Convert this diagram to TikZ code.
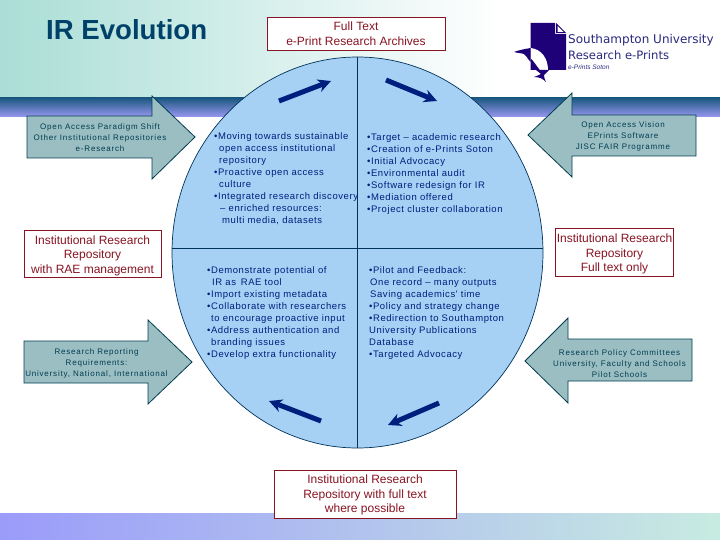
\documentclass[tikz,border=0pt]{standalone}
\usepackage{fontspec}
\setmainfont{Liberation Sans}
\newfontfamily\widefont[LetterSpace=6]{Liberation Sans}
\newfontfamily\arrowfont[LetterSpace=10]{Liberation Sans}
\newfontfamily\logofont{DejaVu Sans}
\usetikzlibrary{arrows.meta, positioning, calc}
\definecolor{tealfade}{RGB}{170,222,214}
\definecolor{banddark}{RGB}{28,88,130}
\definecolor{bandlight}{RGB}{150,150,238}
\definecolor{titleink}{RGB}{0,65,105}
\definecolor{footleft}{RGB}{155,155,250}
\definecolor{footright}{RGB}{200,235,225}
\definecolor{discfill}{RGB}{166,209,245}
\definecolor{discline}{RGB}{0,50,90}
\definecolor{pointerfill}{RGB}{155,190,195}
\definecolor{pointerline}{RGB}{0,60,80}
\definecolor{boxred}{RGB}{135,20,35}
\definecolor{navyink}{RGB}{0,30,125}
\definecolor{logoblue}{RGB}{30,0,120}
\definecolor{logoink}{RGB}{40,40,125}
\tikzset{
  redbox/.style={draw=boxred, line width=0.8pt, fill=white, text=boxred, align=center, inner sep=0pt, font=\fontsize{12}{14.5}\selectfont},
  pointer/.style={draw=pointerline, line width=0.8pt, fill=pointerfill},
  pointertext/.style={text=pointerline, align=center, inner sep=0pt, font=\fontsize{8}{11}\arrowfont},
  disctext/.style={text=navyink, align=left, anchor=north west, inner sep=0pt, font=\fontsize{9.5}{12}\widefont},
  flowarrow/.style={draw=navyink, line width=5pt, -{Stealth[length=13pt,width=13pt]}},
  logotext/.style={anchor=west, inner sep=0pt, text=logoink}
}
\begin{document}
\begin{tikzpicture}[x=1pt, y=-1pt, >=Stealth]
    \useasboundingbox (0,0) rectangle (720,540);
    % backgrounds
    \shade[left color=tealfade, right color=white] (0,0) rectangle (500,98);
    \shade[top color=banddark, bottom color=bandlight] (0,98) rectangle (720,116.5);
    \shade[left color=footleft, right color=footright] (0,513) rectangle (720,540);

    \node[anchor=west, inner sep=0pt, text=titleink, font=\fontsize{27.6}{30}\selectfont\bfseries] (title) at (46,30) {IR Evolution};

    % disc
    \draw[discline, fill=discfill, line width=0.7pt] (357.5,252.5) ellipse [x radius=185.5, y radius=195.5];
    \draw[discline, line width=0.7pt] (172,248) -- (543,248);
    \draw[discline, line width=0.7pt] (357,57) -- (357,448);

    % flow arrows round the disc
    \coordinate (tl1) at (279,101);
    \coordinate (tl2) at (331,81);
    \coordinate (tr1) at (386,80);
    \coordinate (tr2) at (437,101);
    \coordinate (br1) at (439,403);
    \coordinate (br2) at (388,425);
    \coordinate (bl1) at (321,421);
    \coordinate (bl2) at (269,401);
    \draw[flowarrow] (tl1) -- (tl2);
    \draw[flowarrow] (tr1) -- (tr2);
    \draw[flowarrow] (br1) -- (br2);
    \draw[flowarrow] (bl1) -- (bl2);

    % disc texts
    \node[disctext] (moving) at (214,132.5) {•Moving towards sustainable\\
      \hspace{5pt}open access institutional\\
      \hspace{5pt}repository\\
      •Proactive open access\\
      \hspace{5pt}culture\\
      •Integrated research discovery\\
      \hspace{6pt}– enriched resources:\\
      \hspace{8pt}multi media, datasets};
    \node[disctext] (target) at (367,133.5) {•Target – academic research\\
      •Creation of e-Prints Soton\\
      •Initial Advocacy\\
      •Environmental audit\\
      •Software redesign for IR\\
      •Mediation offered\\
      •Project cluster collaboration};
    \node[disctext] (demo) at (207,266.5) {•Demonstrate potential of\\
      \hspace{5pt}IR as\enspace RAE tool\\
      •Import existing metadata\\
      •Collaborate with researchers\\
      \hspace{4pt}to encourage proactive input\\
      •Address authentication and\\
      \hspace{4pt}branding issues\\
      •Develop extra functionality};
    \node[disctext] (pilot) at (369,266.5) {•Pilot and Feedback:\\
      \hspace{1pt}One record – many outputs\\
      \hspace{1pt}Saving academics' time\\
      •Policy and strategy change\\
      •Redirection to Southampton\\
      University Publications\\
      Database\\
      •Targeted Advocacy};

    % red boxes
    \node[redbox, minimum width=178pt, minimum height=33pt] (fulltext) at (356,33.5) {Full Text\\[1pt]e-Print Research Archives};
    \node[redbox, minimum width=137pt, minimum height=47pt] (raebox) at (92.5,253.5) {\rule{0pt}{13pt}Institutional Research\\Repository\\with RAE management};
    \node[redbox, minimum width=118pt, minimum height=48pt] (onlybox) at (614.5,252) {\rule{0pt}{13pt}Institutional Research\\Repository\\Full text only};
    \node[redbox, minimum width=182pt, minimum height=48pt] (possible) at (365,494) {\rule{0pt}{11pt}Institutional Research\\Repository with full text\\where possible};

    % pointers
    \draw[pointer] (27,116) -- (152,116) -- (152,96) -- (195,137) -- (152,179) -- (152,158) -- (27,158) -- cycle;
    \node[pointertext] (paradigm) at (100,138) {Open Access Paradigm Shift\\Other Institutional Repositories\\e-Research};
    \draw[pointer] (24,341) -- (148,341) -- (148,320) -- (192,362) -- (148,404) -- (148,383) -- (24,383) -- cycle;
    \node[pointertext] (reporting) at (96.5,363) {Research Reporting\\Requirements:\\University, National, International};
    \draw[pointer] (696,115) -- (572,115) -- (572,93) -- (528,135) -- (572,177) -- (572,156) -- (696,156) -- cycle;
    \node[pointertext] (vision) at (623,136.5) {Open Access Vision\\EPrints Software\\JISC FAIR Programme};
    \draw[pointer] (692,339) -- (568,339) -- (568,318) -- (525,361) -- (568,403) -- (568,381) -- (692,381) -- cycle;
    \node[pointertext] (policy) at (619.5,364) {Research Policy Committees\\University, Faculty and Schools\\Pilot Schools};

    % logo
    \fill[logoblue] (530.5,23) -- (555,23) -- (555,34) -- (566,34) -- (566,70) -- (530.5,70) -- cycle;
    \fill[logoblue] (556,23) -- (566,33) -- (556,33) -- cycle;
    \fill[white] (557.5,26) -- (563.5,32) -- (557.5,32) -- cycle;
    \fill[white] (530.5,48) .. controls (541,49) and (548,58) .. (548,70) -- (540,70) .. controls (536,65) and (533,60) .. (530.5,58) -- cycle;
    \fill[logoblue] (514,52) .. controls (519,50) and (525,49) .. (530.5,48) -- (530.5,62) .. controls (527,58) and (526,55) .. (524,54) .. controls (521,53) and (517,53) .. (514,52) -- cycle;
    \fill[logoblue] (536,70) -- (549,70) .. controls (547,72) and (545,74) .. (544,75) .. controls (544,78) and (545,80) .. (546,82) .. controls (543,79) and (540,77) .. (534,77) .. controls (537,76) and (539,75) .. (541,74) -- cycle;
    \node[logotext, font=\fontsize{12}{13}\logofont] (logoa) at (568,40) {Southampton University};
    \node[logotext, font=\fontsize{11.6}{13}\logofont] (logob) at (568,55) {Research e-Prints};
    \node[logotext, font=\fontsize{6.5}{7}\selectfont\itshape] (logoc) at (568,67) {e-Prints Soton};
\end{tikzpicture}
\end{document}
